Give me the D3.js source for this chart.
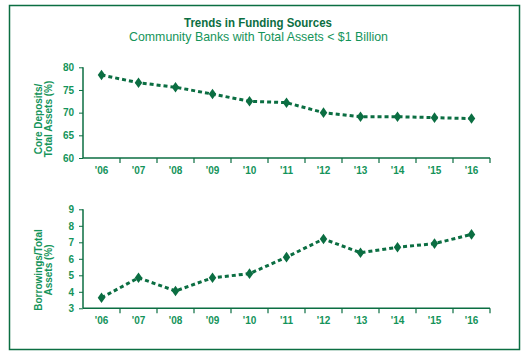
<!DOCTYPE html>
<html><head><meta charset="utf-8">
<script src="https://cdn.jsdelivr.net/npm/d3@7"></script>
<style>
body{margin:0;background:#fff;}
text{font-family:"Liberation Sans Narrow","Arial Narrow","Liberation Sans",sans-serif;}
</style></head>
<body><svg id="c" width="528" height="356"></svg>
<script>
const years = ["'06","'07","'08","'09","'10","'11","'12","'13","'14","'15","'16"];
const coreDeposits = [78.3,76.6,75.6,74.1,72.5,72.2,70.0,69.1,69.1,68.9,68.7];
const borrowings = [3.64,4.85,4.05,4.85,5.1,6.1,7.2,6.37,6.7,6.92,7.48];
const coreTicks = [60,65,70,75,80];
const borrowTicks = [3,4,5,6,7,8,9];
const titleText = "Trends in Funding Sources";
const subtitleText = "Community Banks with Total Assets < $1 Billion";
const yTitles = [["Core Deposits/","Total Assets (%)"],["Borrowings/Total","Assets (%)"]];

const lineCol = "#0b6e42", textCol = "#14945a";
const svg = d3.select("#c");
svg.append("rect").attr("x",9.5).attr("y",5.5).attr("width",510).attr("height",344)
  .attr("fill","none").attr("stroke",lineCol).attr("stroke-width",1.5);

svg.append("text").attr("x",258).attr("y",27).attr("text-anchor","middle")
  .attr("fill",lineCol).attr("font-weight","bold").attr("font-size",13)
  .attr("textLength",148).attr("lengthAdjust","spacingAndGlyphs").text(titleText);
svg.append("text").attr("x",258.5).attr("y",41).attr("text-anchor","middle")
  .attr("fill",textCol).attr("font-size",13)
  .attr("textLength",259).attr("lengthAdjust","spacingAndGlyphs").text(subtitleText);

const x = d3.scaleBand().domain(years).range([83,490]);

function panel(data, ticks, yDomain, yRange, titles, titleCy){
  const y = d3.scaleLinear().domain(yDomain).range(yRange);
  const g = svg.append("g");
  const ya = g.append("g").attr("transform","translate(83,0)")
    .call(d3.axisLeft(y).tickValues(ticks).tickSize(4).tickPadding(5).tickFormat(d3.format("d")));
  ya.select(".domain").attr("stroke",lineCol).attr("stroke-width",1.5).attr("d",`M0,${yRange[1]}V${yRange[0]}`);
  ya.selectAll(".tick line").attr("stroke",lineCol);
  ya.selectAll(".tick text").attr("fill",textCol).attr("font-size",10).attr("font-weight","bold");
  const xa = g.append("g").attr("transform",`translate(0,${yRange[0]})`)
    .call(d3.axisBottom(x).tickSize(0).tickPadding(9));
  xa.select(".domain").attr("stroke",lineCol).attr("stroke-width",1.5).attr("d","M83,0H490");
  xa.selectAll(".tick text").attr("fill",textCol).attr("font-size",10).attr("font-weight","bold");
  g.append("g").selectAll("line").data(years.slice(1).concat(["end"])).join("line")
    .attr("x1",(d,i)=> i<years.length-1 ? x(d) : 490).attr("x2",(d,i)=> i<years.length-1 ? x(d) : 490)
    .attr("y1",yRange[0]).attr("y2",yRange[0]+5).attr("stroke",lineCol).attr("stroke-width",1.2);
  const t = g.append("text").attr("transform",`translate(42,${titleCy}) rotate(-90)`)
    .attr("text-anchor","middle").attr("fill",textCol).attr("font-size",10).attr("font-weight","bold");
  titles.forEach((s,i)=> t.append("tspan").attr("x",0).attr("dy",i===0?0:10).text(s));
  const line = d3.line().x((d,i)=>x(years[i])+x.bandwidth()/2).y(d=>y(d));
  g.append("path").datum(data).attr("d",line).attr("fill","none")
    .attr("stroke",lineCol).attr("stroke-width",3).attr("stroke-dasharray","4,3");
  g.selectAll(".m").data(data).join("path")
    .attr("d",d3.symbol(d3.symbolDiamond,40))
    .attr("transform",(d,i)=>`translate(${x(years[i])+x.bandwidth()/2},${y(d)}) scale(1.1,0.9)`)
    .attr("fill",lineCol);
}
panel(coreDeposits, coreTicks, [60,80], [158,67.3], yTitles[0], 119);
panel(borrowings, borrowTicks, [3,9], [308.3,209.3], yTitles[1], 270);
</script></body></html>
